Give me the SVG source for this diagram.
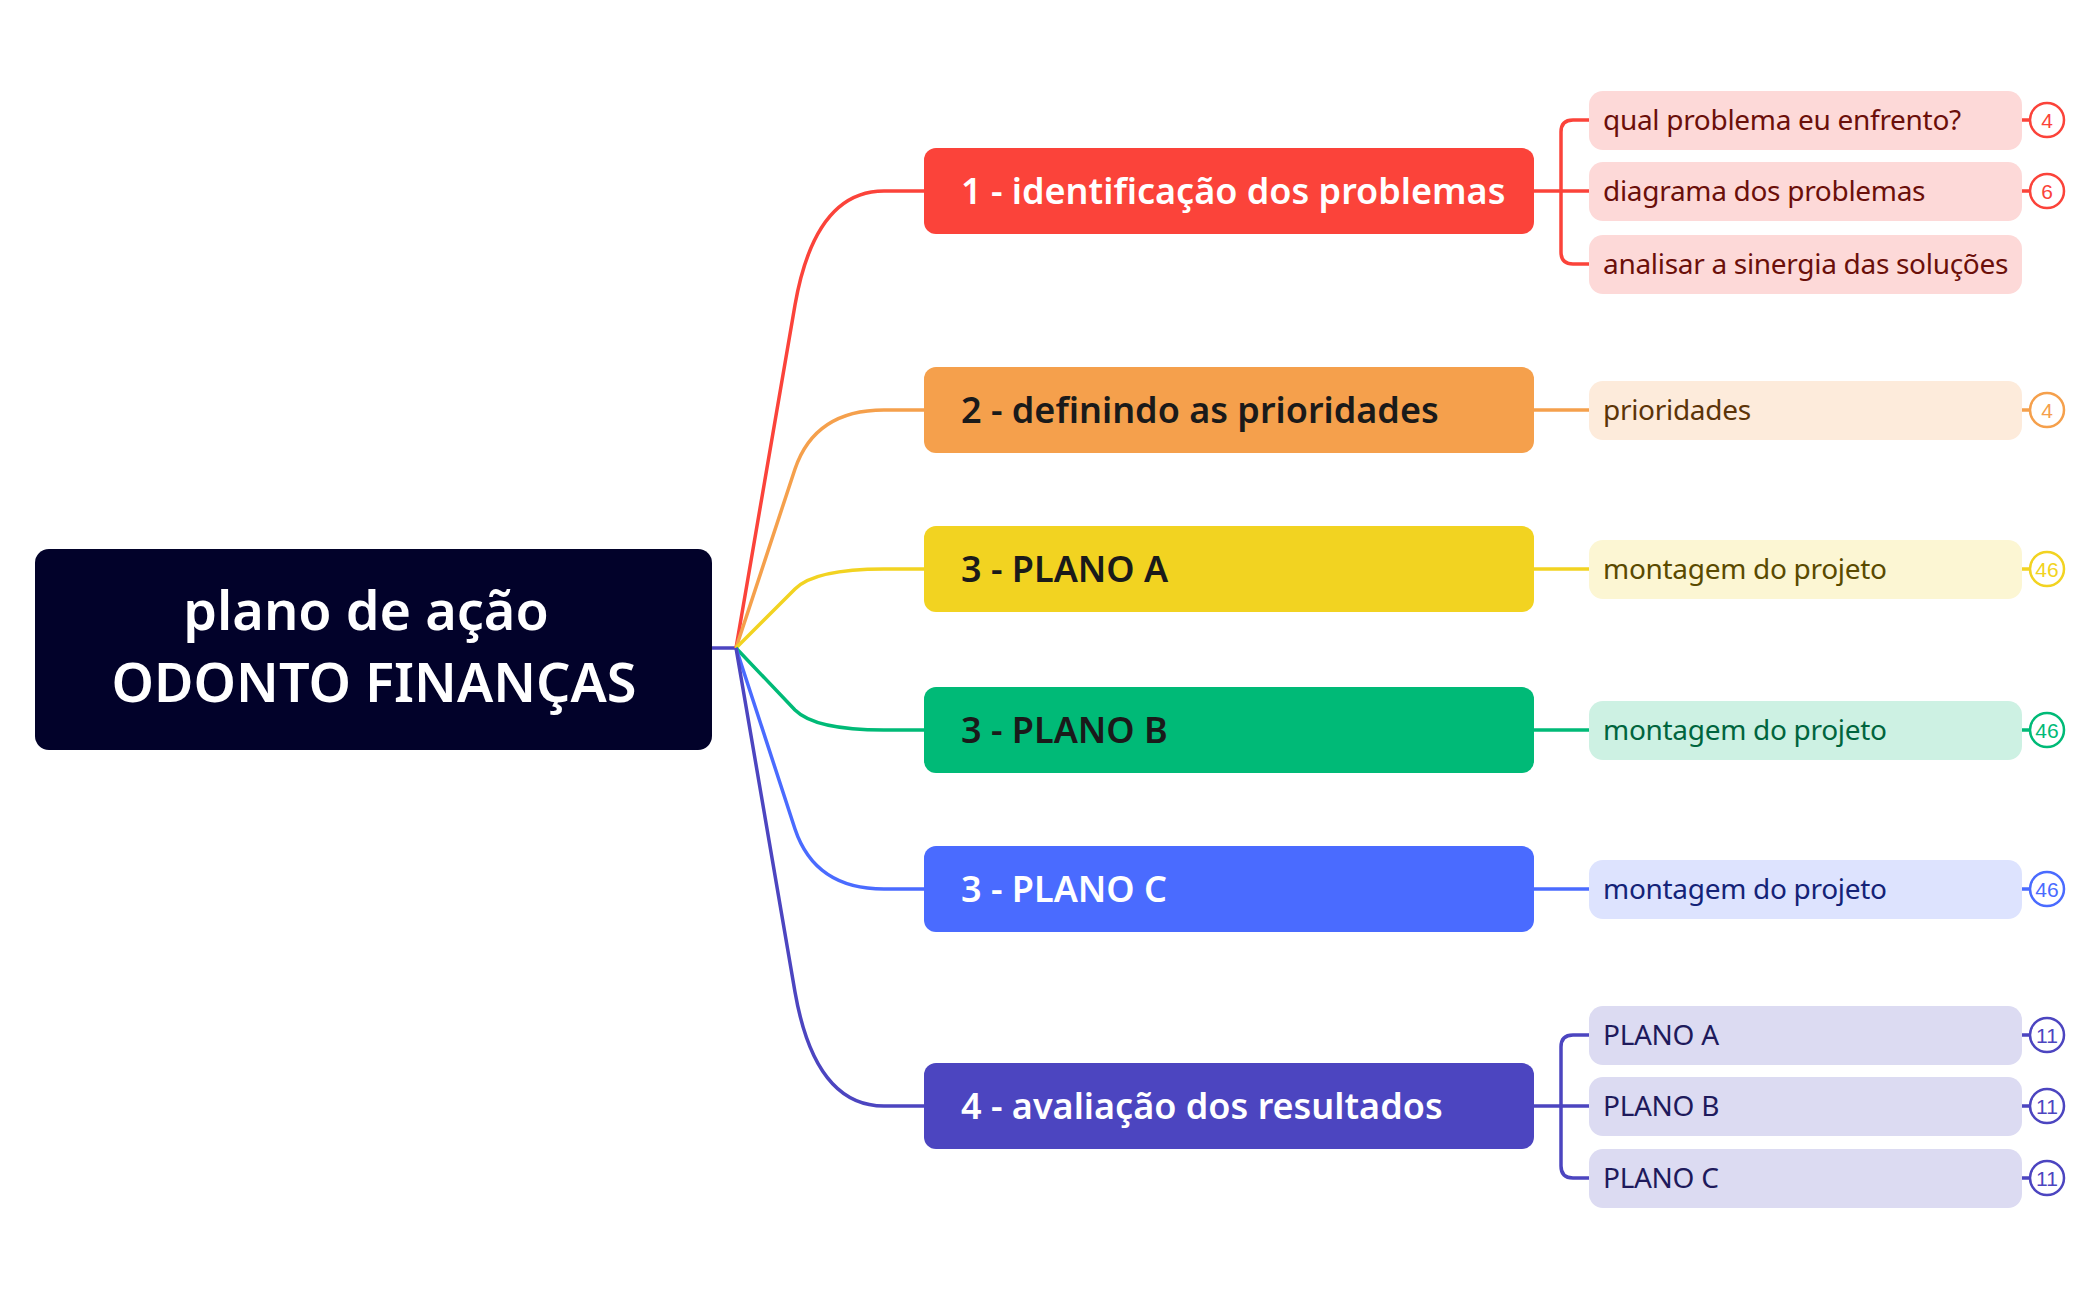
<svg xmlns="http://www.w3.org/2000/svg" width="2100" height="1299" viewBox="0 0 2100 1299">
<style>
.b{font-family:"Noto Sans","DejaVu Sans",sans-serif;font-weight:600;font-size:36px}
.c{font-family:"Noto Sans","DejaVu Sans",sans-serif;font-size:28px;letter-spacing:-0.3px}
.n{font-family:"Liberation Sans",sans-serif;font-size:21px;text-anchor:middle}
.l{fill:none;stroke-width:3.5}
.bd{fill:#fff;stroke-width:2.5}
.r{font-family:"Noto Sans",sans-serif;font-weight:600;font-size:54px;fill:#fff;text-anchor:middle}
</style>
<rect width="2100" height="1299" fill="#fff"/>
<g id="connectors">
<path class="l" stroke="#4C45C0" d="M712,648 H736"/>
<path class="l" stroke="#FB433A" d="M736,648 L795,305 Q815,191 884,191 H924"/>
<path class="l" stroke="#F5A04C" d="M736,648 L795,469 Q815,410 884,410 H924"/>
<path class="l" stroke="#F2D321" d="M736,648 L795,589 Q815,569 884,569 H924"/>
<path class="l" stroke="#00BA77" d="M736,648 L795,710 Q815,730 884,730 H924"/>
<path class="l" stroke="#4A6BFF" d="M736,648 L795,829 Q815,889 884,889 H924"/>
<path class="l" stroke="#4C45C0" d="M736,648 L795,992 Q815,1106 884,1106 H924"/>
<path class="l" stroke="#FB433A" d="M1534,191 H1589 M1561,191 V132 Q1561,120 1573,120 H1589 M1561,191 V252 Q1561,264 1573,264 H1589"/>
<path class="l" stroke="#F5A04C" d="M1534,410 H1589"/>
<path class="l" stroke="#F2D321" d="M1534,569 H1589"/>
<path class="l" stroke="#00BA77" d="M1534,730 H1589"/>
<path class="l" stroke="#4A6BFF" d="M1534,889 H1589"/>
<path class="l" stroke="#4C45C0" d="M1534,1106 H1589 M1561,1106 V1047 Q1561,1035 1573,1035 H1589 M1561,1106 V1166 Q1561,1178 1573,1178 H1589"/>
<path class="l" stroke="#FB433A" d="M2022,120 H2030 M2022,191 H2030"/>
<path class="l" stroke="#F5A04C" d="M2022,410 H2030"/>
<path class="l" stroke="#F2D321" d="M2022,569 H2030"/>
<path class="l" stroke="#00BA77" d="M2022,730 H2030"/>
<path class="l" stroke="#4A6BFF" d="M2022,889 H2030"/>
<path class="l" stroke="#4C45C0" d="M2022,1035 H2030 M2022,1106 H2030 M2022,1178 H2030"/>
</g>
<g id="root">
<rect x="35" y="549" width="677" height="201" rx="14" fill="#02022A"/>
<text class="r" x="366" y="630">plano de ação</text>
<text class="r" x="374" y="702">ODONTO FINANÇAS</text>
</g>
<g id="b1"><rect x="924" y="148" width="610" height="86" rx="12" fill="#FB433A"/><text class="b" x="961" y="204" fill="#fff">1 - identificação dos problemas</text></g>
<g id="b2"><rect x="924" y="367" width="610" height="86" rx="12" fill="#F5A04C"/><text class="b" x="961" y="423" fill="#1a1a1a">2 - definindo as prioridades</text></g>
<g id="b3"><rect x="924" y="526" width="610" height="86" rx="12" fill="#F2D321"/><text class="b" x="961" y="582" fill="#1a1a1a">3 - PLANO A</text></g>
<g id="b4"><rect x="924" y="687" width="610" height="86" rx="12" fill="#00BA77"/><text class="b" x="961" y="743" fill="#1a1a1a">3 - PLANO B</text></g>
<g id="b5"><rect x="924" y="846" width="610" height="86" rx="12" fill="#4A6BFF"/><text class="b" x="961" y="902" fill="#fff">3 - PLANO C</text></g>
<g id="b6"><rect x="924" y="1063" width="610" height="86" rx="12" fill="#4C45C0"/><text class="b" x="961" y="1119" fill="#fff">4 - avaliação dos resultados</text></g>
<g id="c1"><rect x="1589" y="91" width="433" height="59" rx="14" fill="#FDD9D8"/><text class="c" x="1603" y="130" fill="#6B0F0A">qual problema eu enfrento?</text><circle class="bd" cx="2047" cy="120" r="17" stroke="#FB433A"/><text class="n" x="2047" y="128" fill="#FB433A">4</text></g>
<g id="c2"><rect x="1589" y="162" width="433" height="59" rx="14" fill="#FDD9D8"/><text class="c" x="1603" y="201" fill="#6B0F0A">diagrama dos problemas</text><circle class="bd" cx="2047" cy="191" r="17" stroke="#FB433A"/><text class="n" x="2047" y="199" fill="#FB433A">6</text></g>
<g id="c3"><rect x="1589" y="235" width="433" height="59" rx="14" fill="#FDD9D8"/><text class="c" x="1603" y="274" fill="#6B0F0A">analisar a sinergia das soluções</text></g>
<g id="c4"><rect x="1589" y="381" width="433" height="59" rx="14" fill="#FDEBDB"/><text class="c" x="1603" y="420" fill="#5C3408">prioridades</text><circle class="bd" cx="2047" cy="410" r="17" stroke="#F5A04C"/><text class="n" x="2047" y="418" fill="#F5A04C">4</text></g>
<g id="c5"><rect x="1589" y="540" width="433" height="59" rx="14" fill="#FCF6D3"/><text class="c" x="1603" y="579" fill="#5A4A00">montagem do projeto</text><circle class="bd" cx="2047" cy="569" r="17" stroke="#F2D321"/><text class="n" x="2047" y="577" fill="#F2D321">46</text></g>
<g id="c6"><rect x="1589" y="701" width="433" height="59" rx="14" fill="#CDF1E3"/><text class="c" x="1603" y="740" fill="#00653E">montagem do projeto</text><circle class="bd" cx="2047" cy="730" r="17" stroke="#00BA77"/><text class="n" x="2047" y="738" fill="#00BA77">46</text></g>
<g id="c7"><rect x="1589" y="860" width="433" height="59" rx="14" fill="#DDE3FE"/><text class="c" x="1603" y="899" fill="#142378">montagem do projeto</text><circle class="bd" cx="2047" cy="889" r="17" stroke="#4A6BFF"/><text class="n" x="2047" y="897" fill="#4A6BFF">46</text></g>
<g id="c8"><rect x="1589" y="1006" width="433" height="59" rx="14" fill="#DCDBF2"/><text class="c" x="1603" y="1045" fill="#1E1A5C">PLANO A</text><circle class="bd" cx="2047" cy="1035" r="17" stroke="#4C45C0"/><text class="n" x="2047" y="1043" fill="#4C45C0">11</text></g>
<g id="c9"><rect x="1589" y="1077" width="433" height="59" rx="14" fill="#DCDBF2"/><text class="c" x="1603" y="1116" fill="#1E1A5C">PLANO B</text><circle class="bd" cx="2047" cy="1106" r="17" stroke="#4C45C0"/><text class="n" x="2047" y="1114" fill="#4C45C0">11</text></g>
<g id="c10"><rect x="1589" y="1149" width="433" height="59" rx="14" fill="#DCDBF2"/><text class="c" x="1603" y="1188" fill="#1E1A5C">PLANO C</text><circle class="bd" cx="2047" cy="1178" r="17" stroke="#4C45C0"/><text class="n" x="2047" y="1186" fill="#4C45C0">11</text></g>
</svg>
